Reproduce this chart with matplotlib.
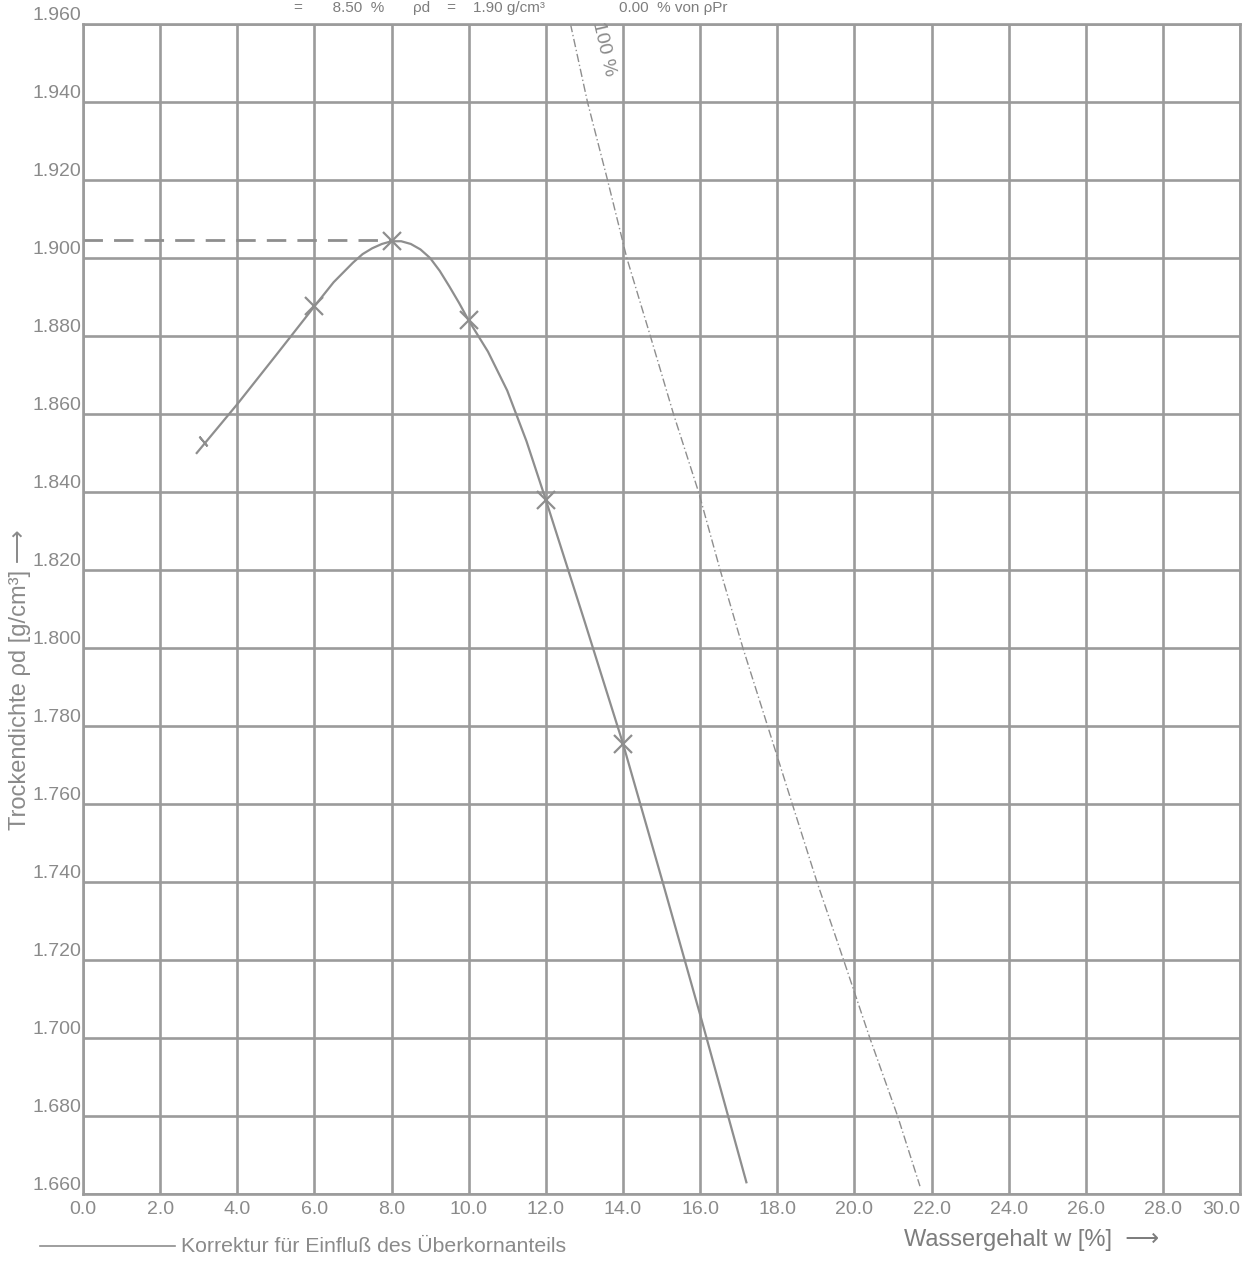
import matplotlib
matplotlib.use("Agg")
import matplotlib.pyplot as plt
import numpy as np

plt.rcParams['font.family'] = ['Liberation Sans', 'DejaVu Sans']

# Proctor test points (water content %, dry density g/cm3)
w_pts = [6.0, 8.0, 10.0, 12.0, 14.0]
rho_pts = [1.8876, 1.9043, 1.8840, 1.8380, 1.7755]

# drawn compaction curve
w_curve = [2.95, 4.0, 5.0, 6.0, 6.5, 7.0, 7.25, 7.5, 7.75, 8.0, 8.25, 8.5,
           8.75, 9.0, 9.25, 9.5, 9.75, 10.0, 10.5, 11.0, 11.5, 12.0, 13.0,
           14.0, 15.0, 16.0, 17.2]
rho_curve = [1.850, 1.8625, 1.875, 1.8876, 1.8938, 1.8988, 1.9010, 1.9025,
             1.9036, 1.9043, 1.9043, 1.9036, 1.9022, 1.9000, 1.8967, 1.8927,
             1.8885, 1.8840, 1.8760, 1.8660, 1.853, 1.838, 1.807, 1.7755,
             1.741, 1.706, 1.663]

# saturation line (100 %)
w_sat = [12.64, 13.08, 13.6, 14.1, 14.71, 15.31, 15.96, 16.52, 17.11, 17.75,
         18.39, 19.03, 19.72, 20.4, 21.12, 21.7]
rho_sat = [1.960, 1.940, 1.920, 1.900, 1.880, 1.860, 1.840, 1.820, 1.800,
           1.780, 1.760, 1.740, 1.720, 1.700, 1.680, 1.662]

w_max = 8.0
rho_max = 1.9045
w_tick = [3.1]
rho_tick = [1.853]

x_ticks = np.arange(0, 30.1, 2.0)
y_ticks = np.arange(1.66, 1.9601, 0.02)

grey = '#9b9b9b'
line_grey = '#8e8e8e'
text_grey = '#8a8a8a'

fig = plt.figure(figsize=(12.51, 12.64), dpi=100)
ax = fig.add_axes([0.0663, 0.0554, 0.925, 0.9256])

ax.set_xlim(0, 30)
ax.set_ylim(1.66, 1.96)
ax.set_xticks(x_ticks)
ax.set_yticks(y_ticks)
ax.set_xticklabels(['%.1f' % v for v in x_ticks])
ax.set_yticklabels(['%.3f' % v for v in y_ticks])
ax.grid(True, color=grey, linewidth=1.9)
ax.set_axisbelow(True)
for s in ax.spines.values():
    s.set_color(grey)
    s.set_linewidth(1.9)
ax.tick_params(axis='x', colors=grey, labelcolor=text_grey, labelsize=14,
               length=0, pad=5)
ax.tick_params(axis='y', colors=grey, labelcolor=text_grey, labelsize=14,
               length=0, pad=1)
for lbl in ax.get_yticklabels():
    lbl.set_verticalalignment('bottom')
ax.get_xticklabels()[-1].set_horizontalalignment('right')

# curve, points, helper lines
ax.plot(w_curve, rho_curve, color=line_grey, linewidth=1.6)
ax.plot(w_pts, rho_pts, linestyle='none', marker='x', markersize=13,
        markeredgewidth=1.6, color=line_grey)
ax.plot(w_tick, rho_tick, linestyle='none', marker=(2, 2, 40), markersize=9,
        markeredgewidth=1.4, color=line_grey)
ax.plot([0, w_max], [rho_max, rho_max], color=line_grey, linewidth=2.0,
        linestyle=(0, (7, 4)))
ax.plot(w_sat, rho_sat, color=line_grey, linewidth=1.0,
        linestyle=(0, (6, 2, 1, 2)))
ax.text(13.5, 1.9535, '100 %', rotation=-77, color=text_grey, fontsize=14,
        ha='center', va='center')

# axis labels
fig.text(0.016, 0.462, 'Trockendichte ρd [g/cm³] ⟶', rotation=90,
         color=text_grey, fontsize=17, ha='center', va='center')
fig.text(0.723, 0.010, 'Wassergehalt w [%]  ⟶', color='#7d7d7d',
         fontsize=17, ha='left', va='bottom')

# legend line at the bottom
fig.add_artist(plt.Line2D([0.032, 0.14], [0.0142, 0.0142], color=line_grey,
                          linewidth=1.2, transform=fig.transFigure))
fig.text(0.145, 0.0142, 'Korrektur für Einfluß des Überkornanteils',
         color=text_grey, fontsize=15.3, ha='left', va='center')

# header line above the chart
fig.text(0.235, 0.9995, '=       8.50  %', color='#7d7d7d', fontsize=11,
         ha='left', va='top')
fig.text(0.33, 0.9995, 'ρd    =    1.90 g/cm³', color='#7d7d7d', fontsize=11,
         ha='left', va='top')
fig.text(0.495, 0.9995, '0.00  % von ρPr', color='#7d7d7d', fontsize=11,
         ha='left', va='top')

fig.savefig('out.png', dpi=100)
